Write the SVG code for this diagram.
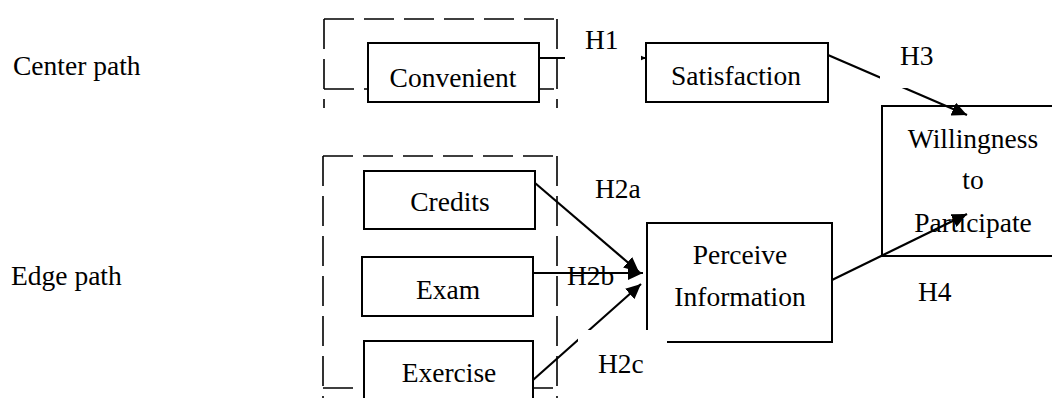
<svg xmlns="http://www.w3.org/2000/svg" width="1052" height="398" viewBox="0 0 1052 398">
<defs>
<marker id="arr" markerUnits="userSpaceOnUse" markerWidth="16" markerHeight="14" refX="15" refY="7" orient="auto">
<path d="M0,0 L15,7 L0,14 Z" fill="#000"/>
</marker>
<style>
text{font-family:'Liberation Serif',Tinos,'Times New Roman',Times,'DejaVu Serif',serif;font-size:27.5px;fill:#000}
.c{text-anchor:middle}
.box{fill:#fff;stroke:#000;stroke-width:2}
.dash{fill:none;stroke:#000;stroke-width:1.6;stroke-dasharray:30 10}
.edge{fill:none;stroke:#000;stroke-width:2.2;marker-end:url(#arr)}
.lbg{fill:#fff;stroke:none}
</style>
</defs>
<rect width="1052" height="398" fill="#fff"/>

<g id="side-labels" font-family="Liberation Serif, serif">
<text x="13" y="75">Center path</text>
<text x="11" y="285">Edge path</text>
</g>

<g id="groups">
<path class="dash" d="M324 19 H557 M324 19 V108 M557 19 V108 M324 89 H557"/>
<path class="dash" d="M323 156 H557 M323 156 V398 M557 156 V398 M323 388 H557"/>
</g>

<g id="node-convenient">
<rect class="box" x="368" y="43" width="171" height="59"/>
<text class="c" x="453" y="87">Convenient</text>
</g>
<g id="node-satisfaction">
<rect class="box" x="646" y="43" width="182" height="59"/>
<text class="c" x="736" y="85">Satisfaction</text>
</g>
<g id="node-willingness">
<rect class="box" x="882" y="106" width="190" height="150"/>
<text class="c" x="973" y="148">Willingness</text>
<text class="c" x="973" y="189">to</text>
<text class="c" x="973" y="232">Participate</text>
</g>
<g id="node-credits">
<rect class="box" x="364" y="171" width="171" height="58"/>
<text class="c" x="450" y="211">Credits</text>
</g>
<g id="node-exam">
<rect class="box" x="362" y="257" width="171" height="59"/>
<text class="c" x="448" y="299">Exam</text>
</g>
<g id="node-exercise">
<rect class="box" x="364" y="341" width="169" height="70"/>
<text class="c" x="449" y="382">Exercise</text>
</g>
<g id="node-perceive">
<rect class="box" x="647" y="223" width="185" height="119"/>
<text class="c" x="740" y="264">Perceive</text>
<text class="c" x="740" y="306">Information</text>
</g>

<g id="connectors">
<path class="edge" d="M539 58 L646 58"/>
<path class="edge" d="M828 55 L967 115"/>
<path class="edge" d="M535 183 L639 272"/>
<path class="edge" d="M533 273 L643 273"/>
<path class="edge" d="M533 380 L641 284"/>
<path class="edge" d="M832 280 L967 214"/>
</g>

<g id="labels">
<rect class="lbg" x="565" y="10" width="76" height="62"/>
<text x="585" y="49">H1</text>
<rect class="lbg" x="880" y="26" width="76" height="62"/>
<text x="900" y="65">H3</text>
<text x="595" y="198">H2a</text>
<text x="567" y="285">H2b</text>
<rect class="lbg" x="578" y="330" width="89" height="68"/>
<text x="598" y="373">H2c</text>
<text x="918" y="301">H4</text>
</g>
</svg>
